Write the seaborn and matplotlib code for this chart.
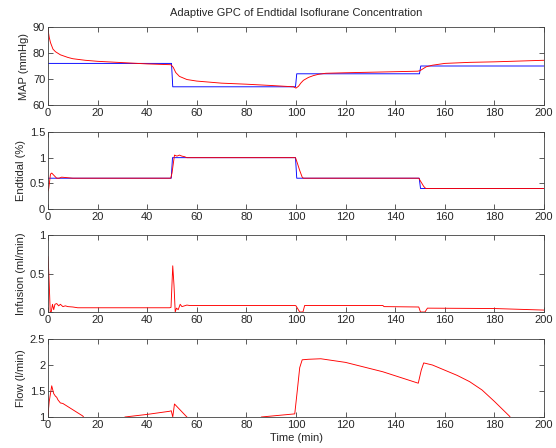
import matplotlib

matplotlib.use("Agg")
import matplotlib.pyplot as plt
import seaborn as sns
from matplotlib.ticker import FuncFormatter

sns.set_style("ticks")
plt.rcParams["font.family"] = ["Liberation Sans", "DejaVu Sans"]

# ---- MAP (mmHg) ----
map_set_t = [0, 49.8, 50.3, 99.8, 100.3, 149.8, 150.3, 200]
map_set = [76, 76, 67, 67, 72, 72, 75, 75]
map_t = [0, 0.5, 1, 2, 3, 5, 8, 10, 15, 20, 30, 40, 49.5, 50.5, 51.5, 53, 56, 60, 70, 80,
         90, 99, 100, 101, 102, 103, 105, 107, 109, 112, 120, 135, 149, 150, 151, 152.5,
         155, 160, 170, 180, 190, 200]
map_red = [89, 86, 84, 81.5, 80.5, 79.3, 78.3, 77.8, 77.2, 76.8, 76.3, 75.8, 75.5, 74.5,
           72.5, 71, 69.8, 69.2, 68.4, 68, 67.5, 67, 66.5, 67.2, 68.5, 69.5, 70.6, 71.3,
           71.8, 72.2, 72.4, 72.7, 73, 73.2, 73.8, 74.7, 75.3, 76, 76.4, 76.6, 76.9, 77.2]

# ---- Endtidal (%) ----
et_set_t = [0, 49.7, 50.2, 99.8, 100.3, 149.7, 150.2, 200]
et_set = [0.6, 0.6, 1.0, 1.0, 0.6, 0.6, 0.4, 0.4]
et_t = [0, 0.3, 1, 1.5, 2.5, 3.5, 4.5, 5.5, 10, 49.5, 50, 51, 52, 53, 54, 55, 56, 60,
        99.8, 100.5, 101.5, 102.5, 103, 149.5, 150.5, 151.5, 152.3, 200]
et_red = [0.35, 0.4, 0.68, 0.7, 0.65, 0.6, 0.6, 0.62, 0.6, 0.6, 0.7, 1.05, 1.03, 1.05,
          1.03, 1.02, 1.0, 1.0, 1.0, 0.9, 0.75, 0.62, 0.6, 0.6, 0.52, 0.44, 0.4, 0.4]

# ---- Infusion (ml/min) ----
inf_t = [0, 0.4, 0.9, 1.3, 1.8, 2.3, 2.8, 3.5, 4.3, 5, 6, 7, 8, 10, 12, 49, 49.6, 50.3,
         50.8, 51.3, 51.8, 52.5, 53.3, 54, 55, 56, 57, 99.6, 100, 101.5, 102.8, 103.5,
         135, 135.5, 149.5, 150.2, 152, 153, 180, 200]
inf_red = [0.72, 0.45, 0.0, 0.0, 0.1, 0.03, 0.1, 0.11, 0.08, 0.1, 0.07, 0.08, 0.07, 0.065,
           0.055, 0.055, 0.06, 0.6, 0.35, 0.0, 0.05, 0.03, 0.1, 0.07, 0.08, 0.09, 0.085,
           0.085, 0.08, 0.0, 0.0, 0.085, 0.085, 0.07, 0.065, 0.0, 0.0, 0.05, 0.045, 0.025]

# ---- Flow (l/min) ----
flow_t = [0, 0.5, 1.5, 2.3, 3, 3.5, 4, 5, 6, 8, 10, 12, 14, 16, 30, 31, 40, 49, 49.7,
          50.3, 51, 52, 54, 56, 58, 85, 86, 99.5, 100.5, 101.5, 102.5, 105, 110, 120, 135,
          149.3, 150.5, 151.5, 155, 160, 165, 170, 175, 180, 186, 188]
flow_red = [1.05, 1.3, 1.6, 1.45, 1.4, 1.38, 1.33, 1.27, 1.26, 1.2, 1.14, 1.08, 1.02, 0.9,
            0.9, 1.0, 1.05, 1.11, 1.12, 1.0, 1.25, 1.2, 1.1, 1.0, 0.9, 0.9, 1.0, 1.06, 1.5,
            1.95, 2.1, 2.11, 2.12, 2.05, 1.87, 1.65, 1.9, 2.04, 2.0, 1.9, 1.8, 1.68, 1.52,
            1.3, 1.02, 0.9]

xticks = list(range(0, 201, 20))
fs = 8
lw = 0.65

fig = plt.figure(figsize=(5.56, 4.48), dpi=100)
left, width = 48 / 556, 496 / 556
rows = [(27, 105), (132, 209), (235, 312), (339, 417)]
axes = [fig.add_axes([left, 1 - b / 448, width, (b - t) / 448]) for t, b in rows]

panels = [
    (map_t, map_red, map_set_t, map_set, "MAP (mmHg)", (60, 90), [60, 70, 80, 90]),
    (et_t, et_red, et_set_t, et_set, "Endtidal (%)", (0, 1.5), [0, 0.5, 1, 1.5]),
    (inf_t, inf_red, None, None, "Infusion (ml/min)", (0, 1), [0, 0.5, 1]),
    (flow_t, flow_red, None, None, "Flow (l/min)", (1, 2.5), [1, 1.5, 2, 2.5]),
]

for ax, (t, y, st, sv, lab, ylim, yt) in zip(axes, panels):
    if st is not None:
        sns.lineplot(x=st, y=sv, ax=ax, color="#0000ff", lw=lw, estimator=None, sort=False)
    sns.lineplot(x=t, y=y, ax=ax, color="#ff0000", lw=lw, estimator=None, sort=False)
    ax.set_xlim(0, 200)
    ax.set_ylim(*ylim)
    ax.set_xticks(xticks)
    ax.set_yticks(yt)
    ax.yaxis.set_major_formatter(FuncFormatter(lambda v, p: f"{v:g}"))
    ax.set_ylabel(lab, fontsize=fs, labelpad=3)
    ax.set_xlabel("")
    ax.tick_params(direction="in", top=True, right=True, length=3.5, width=0.6,
                   labelsize=fs, pad=2, color="#404040")
    for s in ax.spines.values():
        s.set_visible(True)
        s.set_linewidth(0.6)
        s.set_color("#404040")

axes[0].set_title("Adaptive GPC of Endtidal Isoflurane Concentration", fontsize=fs, pad=8)
axes[-1].set_xlabel("Time (min)", fontsize=fs, labelpad=2)

fig.savefig("out.png", dpi=100)
